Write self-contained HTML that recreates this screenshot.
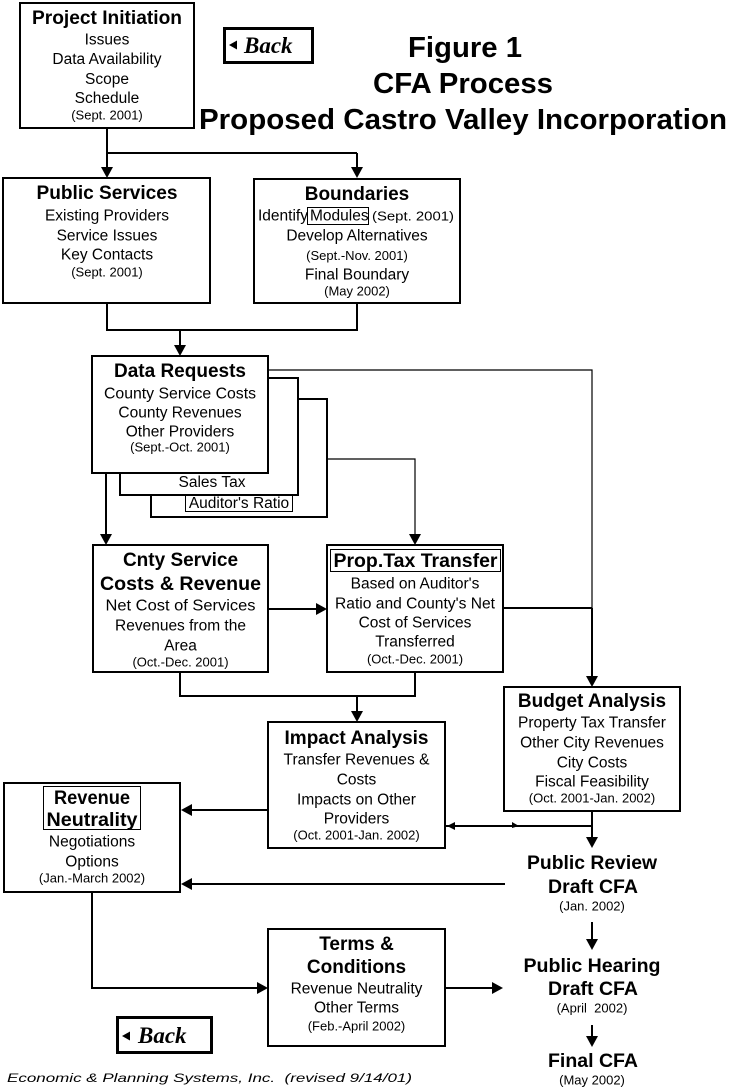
<!DOCTYPE html>
<html>
<head>
<meta charset="utf-8">
<style>
  html,body{margin:0;padding:0;background:#fff;}
  svg{display:block;}
  .t{font-family:"Liberation Sans",Arial,sans-serif;font-weight:bold;font-size:19px;fill:#000;}
  .b{font-family:"Liberation Sans",Arial,sans-serif;font-size:15.5px;fill:#000;}
  .d{font-family:"Liberation Sans",Arial,sans-serif;font-size:13px;fill:#000;}
  .h{font-family:"Liberation Sans",Arial,sans-serif;font-weight:bold;font-size:29px;fill:#000;}
  .bk{font-family:"Liberation Serif",serif;font-style:italic;font-weight:bold;font-size:23px;fill:#000;}
  .ft{font-family:"Liberation Sans",Arial,sans-serif;font-style:italic;font-size:12px;fill:#000;}
</style>
</head>
<body>
<svg width="740" height="1088" viewBox="0 0 740 1088" xmlns="http://www.w3.org/2000/svg">
  <rect x="0" y="0" width="740" height="1088" fill="#fff"/>

  <!-- ===== Connectors ===== -->
  <g stroke="#000" stroke-width="2" fill="none">
    <path d="M107 128 V153 H357"/>
    <path d="M107 153 V168"/>
    <path d="M357 153 V168"/>
    <path d="M107 303 V330 H357 V303"/>
    <path d="M180 330 V346"/>
    <path d="M106 473 V535"/>
    <path d="M268 609 H317"/>
    <path d="M503 608 H592"/>
    <path d="M592 608 V677"/>
    <path d="M180 672 V696 H415 V672"/>
    <path d="M357 696 V712"/>
    <path d="M268 810 H191"/>
    <path d="M505 884 H191"/>
    <path d="M592 811 V838"/>
    <path d="M445 826 H592"/>
    <path d="M92 892 V988 H258"/>
    <path d="M445 988 H493"/>
    <path d="M592 922 V940"/>
    <path d="M592 1025 V1037"/>
  </g>
  <g stroke="#000" stroke-width="1.2" fill="none">
    <path d="M268 370 H592 V608"/>
    <path d="M327 459 H415 V535"/>
  </g>

  <!-- arrowheads -->
  <g fill="#000">
    <polygon points="101,167 113,167 107,178"/>
    <polygon points="351,167 363,167 357,178"/>
    <polygon points="174,345 186,345 180,356"/>
    <polygon points="100,534 112,534 106,545"/>
    <polygon points="409,534 421,534 415,545"/>
    <polygon points="316,603 316,615 327,609"/>
    <polygon points="586,676 598,676 592,687"/>
    <polygon points="351,711 363,711 357,722"/>
    <polygon points="192,804 192,816 181,810"/>
    <polygon points="192,878 192,890 181,884"/>
    <polygon points="586,837 598,837 592,848"/>
    <polygon points="455,822 455,830 447,826"/>
    <polygon points="512,822 512,828 519,826"/>
    <polygon points="257,982 257,994 268,988"/>
    <polygon points="492,982 492,994 503,988"/>
    <polygon points="586,939 598,939 592,950"/>
    <polygon points="586,1036 598,1036 592,1047"/>
  </g>

  <!-- ===== Boxes ===== -->
  <g stroke="#000" stroke-width="2" fill="#fff">
    <rect x="20" y="3" width="174" height="125"/>
    <rect x="3" y="178" width="207" height="125"/>
    <rect x="254" y="179" width="206" height="124"/>
    <rect x="151" y="399" width="176" height="118"/>
    <rect x="120" y="378" width="178" height="117"/>
    <rect x="92" y="356" width="176" height="117"/>
    <rect x="93" y="545" width="175" height="127"/>
    <rect x="327" y="545" width="176" height="127"/>
    <rect x="268" y="722" width="177" height="126"/>
    <rect x="504" y="687" width="176" height="124"/>
    <rect x="4" y="783" width="176" height="109"/>
    <rect x="268" y="929" width="177" height="117"/>
  </g>
  <!-- inner label frames -->
  <g stroke="#000" stroke-width="1" fill="none">
    <rect x="307.5" y="207.5" width="61" height="17"/>
    <rect x="185.5" y="494.5" width="107" height="17"/>
    <rect x="330.5" y="549.5" width="170" height="22"/>
    <rect x="43.5" y="786.5" width="97" height="43"/>
  </g>

  <!-- Back buttons -->
  <rect x="224.5" y="28.5" width="88" height="34" fill="#fff" stroke="#000" stroke-width="3"/>
  <polygon points="229,45 237,40.5 237,49.5" fill="#000"/>
  <text class="bk" x="244" y="53">Back</text>

  <rect x="117.5" y="1017.5" width="94" height="35" fill="#fff" stroke="#000" stroke-width="3"/>
  <polygon points="122,1036 130,1031.5 130,1040.5" fill="#000"/>
  <text class="bk" x="138" y="1043">Back</text>

  <!-- ===== Title ===== -->
  <g text-anchor="middle">
    <text class="h" x="465" y="57" textLength="114" lengthAdjust="spacingAndGlyphs">Figure 1</text>
    <text class="h" x="463" y="93" textLength="180" lengthAdjust="spacingAndGlyphs">CFA Process</text>
    <text class="h" x="463" y="129" textLength="528" lengthAdjust="spacingAndGlyphs">Proposed Castro Valley Incorporation</text>
  </g>

  <!-- ===== Box texts ===== -->
  <g text-anchor="middle">
    <!-- Project Initiation -->
    <text class="t" x="107" y="24" textLength="150" lengthAdjust="spacingAndGlyphs">Project Initiation</text>
    <text class="b" x="107" y="44.5">Issues</text>
    <text class="b" x="107" y="64">Data Availability</text>
    <text class="b" x="107" y="84">Scope</text>
    <text class="b" x="107" y="103">Schedule</text>
    <text class="d" x="107" y="119.5">(Sept. 2001)</text>

    <!-- Public Services -->
    <text class="t" x="107" y="199" textLength="141" lengthAdjust="spacingAndGlyphs">Public Services</text>
    <text class="b" x="107" y="220.5">Existing Providers</text>
    <text class="b" x="107" y="240.5">Service Issues</text>
    <text class="b" x="107" y="259.5">Key Contacts</text>
    <text class="d" x="107" y="276.5">(Sept. 2001)</text>

    <!-- Boundaries -->
    <text class="t" x="357" y="200">Boundaries</text>
    <text class="b" x="357" y="240.5">Develop Alternatives</text>
    <text class="d" x="357" y="260">(Sept.-Nov. 2001)</text>
    <text class="b" x="357" y="279.5">Final Boundary</text>
    <text class="d" x="357" y="295.5">(May 2002)</text>

    <!-- Data Requests -->
    <text class="t" x="180" y="377">Data Requests</text>
    <text class="b" x="180" y="398.5" textLength="152" lengthAdjust="spacingAndGlyphs">County Service Costs</text>
    <text class="b" x="180" y="417.5">County Revenues</text>
    <text class="b" x="180" y="436.5">Other Providers</text>
    <text class="d" x="180" y="451.5">(Sept.-Oct. 2001)</text>
    <text class="b" x="212" y="487">Sales Tax</text>
    <text class="b" x="239" y="508">Auditor's Ratio</text>

    <!-- Cnty Service -->
    <text class="t" x="180.5" y="566">Cnty Service</text>
    <text class="t" x="180.5" y="590" textLength="161" lengthAdjust="spacingAndGlyphs">Costs &amp; Revenue</text>
    <text class="b" x="180.5" y="610.5" textLength="150" lengthAdjust="spacingAndGlyphs">Net Cost of Services</text>
    <text class="b" x="180.5" y="630.5">Revenues from the</text>
    <text class="b" x="180.5" y="650.5">Area</text>
    <text class="d" x="180.5" y="666.5">(Oct.-Dec. 2001)</text>

    <!-- Prop Tax Transfer -->
    <text class="t" x="415.5" y="567" textLength="164" lengthAdjust="spacingAndGlyphs">Prop.Tax Transfer</text>
    <text class="b" x="415" y="588.5">Based on Auditor's</text>
    <text class="b" x="415" y="608.5" textLength="160" lengthAdjust="spacingAndGlyphs">Ratio and County's Net</text>
    <text class="b" x="415" y="627.5">Cost of Services</text>
    <text class="b" x="415" y="646.5">Transferred</text>
    <text class="d" x="415" y="663.5">(Oct.-Dec. 2001)</text>

    <!-- Impact Analysis -->
    <text class="t" x="356.5" y="744">Impact Analysis</text>
    <text class="b" x="356.5" y="764.5">Transfer Revenues &amp;</text>
    <text class="b" x="356.5" y="784.5">Costs</text>
    <text class="b" x="356.5" y="804.5">Impacts on Other</text>
    <text class="b" x="356.5" y="823.5">Providers</text>
    <text class="d" x="356.5" y="839.5">(Oct. 2001-Jan. 2002)</text>

    <!-- Budget Analysis -->
    <text class="t" x="592" y="707">Budget Analysis</text>
    <text class="b" x="592" y="727.5">Property Tax Transfer</text>
    <text class="b" x="592" y="747.5">Other City Revenues</text>
    <text class="b" x="592" y="767.5">City Costs</text>
    <text class="b" x="592" y="786.5">Fiscal Feasibility</text>
    <text class="d" x="592" y="802.5">(Oct. 2001-Jan. 2002)</text>

    <!-- Revenue Neutrality -->
    <text class="t" x="92" y="804" textLength="76" lengthAdjust="spacingAndGlyphs">Revenue</text>
    <text class="t" x="92" y="826" textLength="91" lengthAdjust="spacingAndGlyphs">Neutrality</text>
    <text class="b" x="92" y="846.5">Negotiations</text>
    <text class="b" x="92" y="866.5">Options</text>
    <text class="d" x="92" y="882.5">(Jan.-March 2002)</text>

    <!-- Terms & Conditions -->
    <text class="t" x="356.5" y="950">Terms &amp;</text>
    <text class="t" x="356.5" y="973">Conditions</text>
    <text class="b" x="356.5" y="993.5">Revenue Neutrality</text>
    <text class="b" x="356.5" y="1012.5">Other Terms</text>
    <text class="d" x="356.5" y="1030.5">(Feb.-April 2002)</text>

    <!-- Right column -->
    <text class="t" x="592" y="869" textLength="130" lengthAdjust="spacingAndGlyphs">Public Review</text>
    <text class="t" x="593" y="893" textLength="90" lengthAdjust="spacingAndGlyphs">Draft CFA</text>
    <text class="d" x="592" y="910.5">(Jan. 2002)</text>
    <text class="t" x="592" y="972" textLength="137" lengthAdjust="spacingAndGlyphs">Public Hearing</text>
    <text class="t" x="593" y="995" textLength="90" lengthAdjust="spacingAndGlyphs">Draft CFA</text>
    <text class="d" x="592" y="1012.5">(April&#160; 2002)</text>
    <text class="t" x="593" y="1067" textLength="90" lengthAdjust="spacingAndGlyphs">Final CFA</text>
    <text class="d" x="592" y="1084.5">(May 2002)</text>
  </g>

  <!-- Identify Modules line -->
  <text class="b" x="258" y="220.5">Identify</text>
  <text class="b" x="310" y="220.5">Modules</text>
  <text class="d" x="372" y="220.5" textLength="82" lengthAdjust="spacingAndGlyphs">(Sept. 2001)</text>

  <!-- Footer -->
  <text class="ft" x="7" y="1082" textLength="405" lengthAdjust="spacingAndGlyphs">Economic &amp; Planning Systems, Inc.&#160; (revised 9/14/01)</text>
</svg>
</body>
</html>
